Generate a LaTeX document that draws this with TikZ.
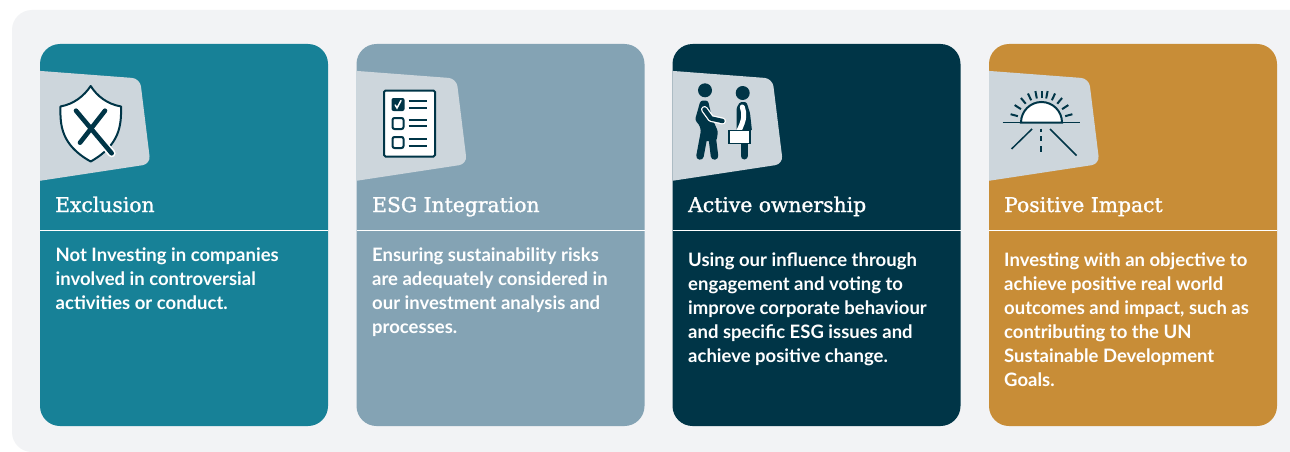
\documentclass[tikz,border=0pt]{standalone}
\usepackage{fontspec}
\setmainfont{Lato}
\newfontfamily\headfont[FakeBold=1.3]{DejaVu Serif}
\definecolor{panelbg}{HTML}{F2F3F5}
\definecolor{teal}{HTML}{178197}
\definecolor{slate}{HTML}{84A3B4}
\definecolor{navy}{HTML}{003547}
\definecolor{ochre}{HTML}{C88D37}
\definecolor{tabc}{HTML}{CDD6DC}
\tikzset{
  x=1pt,y=-1pt,
  cardbox/.style={fill=#1,draw=none,rounded corners=20pt},
  tabshape/.style={fill=tabc,draw=none,rounded corners=8pt},
  heading/.style={anchor=base west,inner sep=0pt,text=white,font=\headfont\fontsize{20.3}{22}\selectfont},
  bodytext/.style={anchor=north west,inner sep=0pt,text=white,align=left,font=\bfseries\fontsize{18.5}{24.1}\selectfont},
  ink/.style={draw=navy,line width=#1},
  ink/.default=2pt,
}
\newcommand{\cardat}[2]{%
  \fill[cardbox=#2] (#1,44) rectangle ++(288,382);
  \begin{scope}
    \clip (#1,44) rectangle ++(288,382);
    \fill[tabshape] (#1-12,70) -- (#1+100,78.5) -- (#1+110.5,164) -- (#1-12,182.6) -- cycle;
  \end{scope}
  \draw[white,line width=0.9pt] (#1,230) -- ++(288,0);
}
\begin{document}
\begin{tikzpicture}
\useasboundingbox (0,0) rectangle (1290,452);
\fill[white] (0,0) rectangle (1290,452);
\begin{scope}
  \clip (0,0) rectangle (1290,452);
  \fill[panelbg,rounded corners=20pt] (12,10) rectangle (1340,452);
\end{scope}
\cardat{40}{teal}
\cardat{356.5}{slate}
\cardat{672.5}{navy}
\cardat{989}{ochre}

% Shield
\draw[ink=2pt,fill=white,line join=round] (90.7,86) .. controls (84,96) and (74,104) .. (60.5,106.5)
  .. controls (60,125) and (61,145) .. (90.7,161.5)
  .. controls (120,145) and (121.5,125) .. (121,106.5)
  .. controls (107,104) and (97,96) .. (90.7,86) -- cycle;
\draw[white,line width=8pt,line cap=round] (100,140) -- (111.7,153.3);
\draw[navy,line width=4.6pt,line cap=round] (76,110.7) -- (111.7,153.3);
\draw[navy,line width=4.6pt,line cap=round] (105,110.7) -- (80,142.7);

% Checklist
\draw[ink=2pt,fill=white,rounded corners=1.5pt] (384,90.5) rectangle (435,156.5);
\fill[navy,rounded corners=2pt] (391.5,98) rectangle (404.5,111);
\draw[white,line width=1.5pt,line cap=round] (395.2,105) -- (397,108) -- (401,100.5);
\draw[ink=2pt,rounded corners=2pt] (392.5,118) rectangle (403.5,129);
\draw[ink=2pt,rounded corners=2pt] (392.5,137) rectangle (403.5,148);
\foreach \ya in {101,107.7,120.3,126.3,139.3,145.7}
  \draw[navy,line width=1.8pt] (408.7,\ya) -- (427.3,\ya);

% Two people
\fill[navy] (705,90.3) circle (7);
\fill[navy] (742.7,93) circle (7);
\fill[navy,rounded corners=2.5pt] (700.5,100.5) -- (708,100.5) -- (712,118) -- (718,131.5) -- (716.5,141)
  -- (702,141) -- (700,126) -- (695,120) -- cycle;
\draw[navy,line width=7.5pt,line cap=round] (704.5,132) -- (700,156);
\draw[navy,line width=7.5pt,line cap=round] (711.5,132) -- (714.5,156);
\draw[white,line width=7pt,line cap=round,line join=round] (704.5,109.5) -- (711,118.5) -- (722.5,121);
\draw[navy,line width=4.4pt,line cap=round,line join=round] (704.5,109.5) -- (711,118.5) -- (722.5,121);
\fill[navy,rounded corners=1.5pt] (740,102) -- (746.5,102) -- (750,113) -- (752,131) -- (736.5,131) -- (736.5,108) -- cycle;
\draw[white,line width=5pt,line cap=round] (742.3,107) .. controls (744.5,114) and (745,119) .. (738.5,131.5);
\draw[navy,line width=7pt,line cap=round] (744,143) -- (744,156);
\draw[ink=1.6pt,fill=white] (729,130.5) rectangle (750,143.5);

% Sunrise
\draw[ink=2pt,fill=white] (1021,122.5) arc[start angle=180,end angle=360,radius=20.5] -- cycle;
\draw[navy,line width=1.7pt] (1002.5,122.5) -- (1080,122.5);
\foreach \ang in {15,33,50,65,79,90,101,115,130,147,165}
  \draw[navy,line width=2pt] ({1041.5+24.5*cos(\ang)},{122.5-24.5*sin(\ang)}) -- ({1041.5+32*cos(\ang)},{122.5-32*sin(\ang)});
\draw[navy,line width=1.5pt] (1032,129) -- (1011.5,149);
\draw[navy,line width=1.5pt] (1050,129) -- (1076.5,155.5);
\draw[navy,line width=1.5pt] (1041,128.5) -- (1041,131.5);
\draw[navy,line width=1.5pt] (1041,136) -- (1041,141);
\draw[navy,line width=1.5pt] (1041,146) -- (1041,152);

% Text
\node[heading] (h1) at (55,212) {Exclusion};
\node[heading] (h2) at (372,212) {ESG Integration};
\node[heading] (h3) at (688,212) {Active ownership};
\node[heading] (h4) at (1004,212) {Positive Impact};
\node[bodytext] (b1) at (55.5,247.5) {Not Investing in companies\\involved in controversial\\activities or conduct.};
\node[bodytext] (b2) at (372,247.5) {Ensuring sustainability risks\\are adequately considered in\\our investment analysis and\\processes.};
\node[bodytext] (b3) at (688,252.5) {Using our influence through\\engagement and voting to\\improve corporate behaviour\\and specific ESG issues and\\achieve positive change.};
\node[bodytext] (b4) at (1004,252.5) {Investing with an objective to\\achieve positive real world\\outcomes and impact, such as\\contributing to the UN\\Sustainable Development\\Goals.};
\end{tikzpicture}
\end{document}
